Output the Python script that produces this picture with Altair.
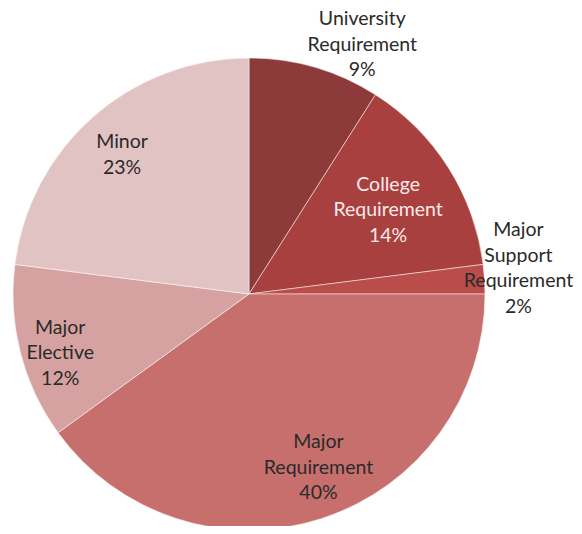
import altair as alt
import pandas as pd

categories = ["University Requirement", "College Requirement", "Major Support Requirement",
              "Major Requirement", "Major Elective", "Minor"]
label_text = ["University\nRequirement", "College\nRequirement", "Major\nSupport\nRequirement",
              "Major\nRequirement", "Major\nElective", "Minor"]
percent = [9, 14, 2, 40, 12, 23]

palette = ["#8C3A3A", "#A8403F", "#BA4D4A", "#C76F6D", "#D6A2A1", "#E2C3C3"]

df = pd.DataFrame({
    "cat": categories,
    "label": [f"{t}\n{p}%" for t, p in zip(label_text, percent)],
    "value": percent,
    "order": list(range(len(categories))),
})

CX, CY, R = 241, 286, 236
LH = 25.5

base = alt.Chart(df).transform_window(
    cum="sum(value)", sort=[{"field": "order"}], frame=[None, 0]
).transform_calculate(
    start="datum.cum - datum.value",
    mid="datum.cum - datum.value / 2",
)

arcs = base.mark_arc(outerRadius=R, stroke="#ffffff", strokeWidth=0.5).encode(
    theta=alt.Theta("start:Q", scale=alt.Scale(domain=[0, 100])),
    theta2="cum:Q",
    color=alt.Color("cat:N", scale=alt.Scale(domain=categories, range=palette), legend=None),
    x=alt.value(CX),
    y=alt.value(CY),
)

# (category, radius, dx, dy, number of lines, colour)
label_style = [
    ("University Requirement", 277, 36, 17, 3, "#2a2a2a"),
    ("College Requirement", 160, 4, 2, 3, "#fbe9e9"),
    ("Major Support Requirement", 275, -5, -8, 4, "#2a2a2a"),
    ("Major Requirement", 186, 12, -3, 3, "#2a2a2a"),
    ("Major Elective", 198, 3, 10, 3, "#2a2a2a"),
    ("Minor", 189, -2, 3, 2, "#2a2a2a"),
]

layers = [arcs]
for cat, r, dx, dy, n, col in label_style:
    layers.append(
        base.transform_filter(alt.datum.cat == cat).mark_text(
            radius=r, dx=dx, dy=dy - (n - 1) * LH / 2, font="Lato", fontSize=19.5,
            lineBreak="\n", lineHeight=LH, color=col, align="center", baseline="middle",
        ).encode(
            theta=alt.Theta("mid:Q", scale=alt.Scale(domain=[0, 100])),
            text="label:N",
            x=alt.value(CX),
            y=alt.value(CY),
        )
    )

chart = alt.layer(*layers).properties(
    width=566, height=518, padding=0, autosize=alt.AutoSizeParams(type="none")
).configure_view(stroke=None)

chart.save("out.html", embed_options={"renderer": "svg", "actions": False})
